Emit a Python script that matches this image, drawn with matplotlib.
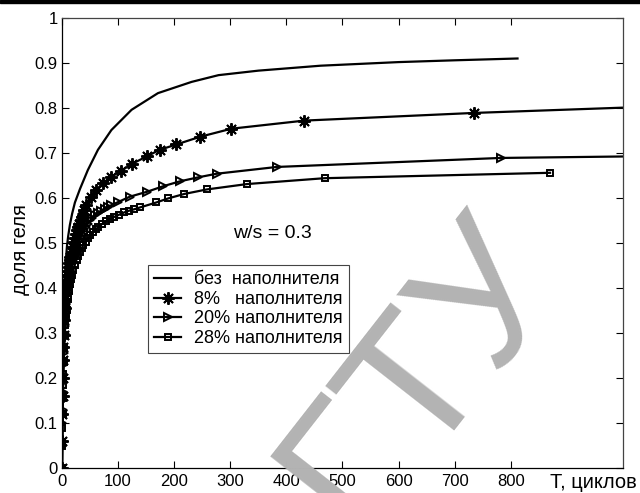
"""Gel fraction vs. number of cycles for several filler contents (w/s = 0.3)."""
import matplotlib
matplotlib.use('Agg')
from matplotlib import pyplot as plt
from matplotlib.patches import Rectangle


plt.rcParams['font.family'] = ['Liberation Sans', 'DejaVu Sans']
plt.rcParams['font.size'] = 11.5

T_NONE = [0, 0.5, 1, 1.5, 2, 3, 4, 5, 6, 7, 9, 11, 14, 18, 23, 32, 46, 64,
          88, 124, 171, 231, 279, 350, 461, 600, 700, 812]
GEL_NONE = [0, 0.12, 0.2, 0.25, 0.29, 0.35, 0.39, 0.42, 0.445, 0.465, 0.495,
            0.515, 0.54, 0.565, 0.59, 0.62, 0.662, 0.707, 0.751, 0.796, 0.833,
            0.858, 0.873, 0.883, 0.894, 0.902, 0.906, 0.910]
"""list: Без наполнителя."""

T_8 = [0, 0.3, 0.7, 1, 1.5, 2, 2.5, 3, 4, 5, 6, 7, 8, 9, 10, 11, 12, 13, 14,
       15, 17, 19, 21, 23, 25, 27, 29, 31, 33, 35, 37, 40, 43, 52, 61, 73, 88,
       106, 125, 152, 174, 204, 246, 302, 432, 734, 1050]
GEL_8 = [0, 0.06, 0.12, 0.16, 0.2, 0.24, 0.27, 0.295, 0.33, 0.355, 0.375,
         0.392, 0.405, 0.417, 0.428, 0.438, 0.447, 0.455, 0.462, 0.469, 0.481,
         0.492, 0.502, 0.511, 0.52, 0.528, 0.536, 0.543, 0.55, 0.557, 0.563,
         0.573, 0.585, 0.603, 0.618, 0.633, 0.647, 0.661, 0.676, 0.693, 0.707,
         0.719, 0.736, 0.754, 0.772, 0.789, 0.803]
"""list: 8% наполнителя."""

T_20 = [0, 0.3, 0.7, 1, 1.5, 2, 2.5, 3, 4, 5, 6, 7, 8, 9, 10, 11, 12, 14, 16,
        18, 20, 22, 24, 27, 30, 33, 36, 39, 42, 46, 50, 54, 59, 64, 70, 76, 82,
        88, 100, 121, 152, 180, 210, 243, 276, 383, 782, 1050]
GEL_20 = [0, 0.05, 0.1, 0.13, 0.17, 0.2, 0.23, 0.255, 0.29, 0.315, 0.338,
          0.358, 0.373, 0.387, 0.398, 0.408, 0.417, 0.432, 0.445, 0.456, 0.466,
          0.475, 0.483, 0.494, 0.504, 0.513, 0.521, 0.528, 0.535, 0.543, 0.55,
          0.556, 0.562, 0.567, 0.572, 0.576, 0.58, 0.584, 0.591, 0.603, 0.614,
          0.626, 0.637, 0.646, 0.654, 0.669, 0.689, 0.693]
"""list: 20% наполнителя."""

T_28 = [0, 0.3, 0.7, 1, 1.5, 2, 2.5, 3, 4, 5, 6, 7, 8, 10, 12, 14, 16, 18, 20,
        23, 26, 29, 32, 35, 38, 42, 46, 50, 55, 60, 65, 71, 78, 85, 93, 102,
        111, 120, 129, 139, 168, 189, 218, 258, 330, 468, 870]
GEL_28 = [0, 0.05, 0.09, 0.12, 0.155, 0.185, 0.21, 0.235, 0.27, 0.295, 0.318,
          0.336, 0.352, 0.376, 0.394, 0.408, 0.42, 0.43, 0.439, 0.452, 0.463,
          0.472, 0.48, 0.488, 0.495, 0.503, 0.51, 0.517, 0.524, 0.53, 0.536,
          0.542, 0.548, 0.553, 0.558, 0.563, 0.568, 0.572, 0.575, 0.579, 0.59,
          0.599, 0.609, 0.619, 0.631, 0.644, 0.656]
"""list: 28% наполнителя."""

LABELS = ['без  наполнителя', '8%   наполнителя',
          '20% наполнителя', '28% наполнителя']

X_TICKS = [0, 100, 200, 300, 400, 500, 600, 700, 800]
Y_TICKS = [0, 0.1, 0.2, 0.3, 0.4, 0.5, 0.6, 0.7, 0.8, 0.9, 1]
Y_TICK_LABELS = ['0', '0.1', '0.2', '0.3', '0.4', '0.5', '0.6', '0.7', '0.8',
                 '0.9', '1']


def main():
    fig = plt.figure(figsize=(6.4, 4.93), dpi=100)
    ax = fig.add_axes([0.0969, 0.0507, 0.8765, 0.9128])

    line_kw = dict(color='black', lw=1.6, mfc='none', mec='black', mew=1.4)
    ax.plot(T_NONE, GEL_NONE, label=LABELS[0], **line_kw)
    ax.plot(T_8, GEL_8, marker=(8, 2, 0), ms=9, label=LABELS[1], **line_kw)
    ax.plot(T_20, GEL_20, marker='>', ms=6, label=LABELS[2], **line_kw)
    ax.plot(T_28, GEL_28, marker='s', ms=4.5, label=LABELS[3], **line_kw)

    ax.set_xlim(0, 1000)
    ax.set_ylim(0, 1)
    ax.set_xticks(X_TICKS)
    ax.set_yticks(Y_TICKS)
    ax.set_yticklabels(Y_TICK_LABELS)
    ax.tick_params(direction='in', top=True, right=True, length=5,
                   width=0.8, labelsize=12)
    ax.tick_params(axis='x', pad=4)
    ax.tick_params(axis='y', pad=3)
    for side in ['top', 'right']:
        ax.spines[side].set_color('#444444')
    for spine in ax.spines.values():
        spine.set_linewidth(0.9)

    fig.text(21 / 640, 1 - 250 / 493, 'доля геля', rotation=90,
             ha='center', va='center', fontsize=14.5)
    ax.text(0.948, -0.033, 'T, циклов', transform=ax.transAxes,
            ha='center', va='center', fontsize=14.5)
    ax.text(375, 0.52, 'w/s = 0.3', ha='center', va='center', fontsize=14)

    leg = ax.legend(loc='upper left', bbox_to_anchor=(0.153, 0.451),
                    borderaxespad=0, fancybox=False, framealpha=1,
                    edgecolor='#444444', handlelength=1.5, handletextpad=0.7,
                    labelspacing=0.14, borderpad=0.35, fontsize=13)
    leg.get_frame().set_linewidth(0.8)

    # watermark
    fig.text(0.7185, 0.181, 'ГТУ', rotation=52, rotation_mode='anchor',
             ha='center', va='baseline', fontsize=135, color='#b3b3b3',
             zorder=10)

    # dark strip along the top edge of the scan
    fig.add_artist(Rectangle((0, 1 - 3 / 493), 1, 3 / 493, color='black',
                             transform=fig.transFigure, zorder=11))

    fig.savefig('out.png', dpi=100)


if __name__ == '__main__':
    main()
